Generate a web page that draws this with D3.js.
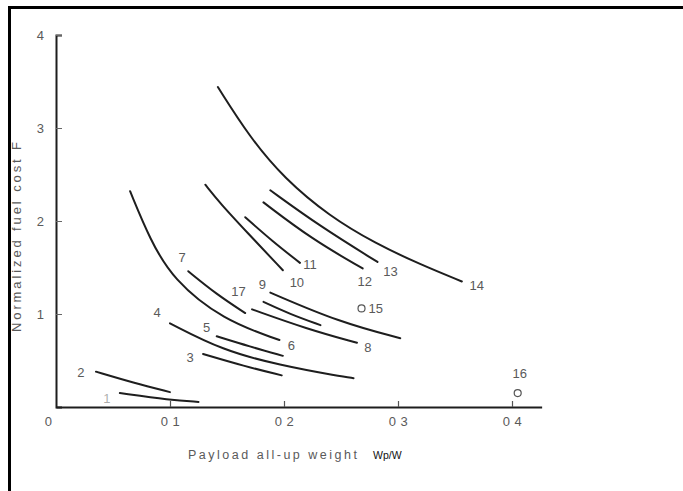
<!DOCTYPE html>
<html>
<head>
<meta charset="utf-8">
<script src="https://cdn.jsdelivr.net/npm/d3@7"></script>
<style>
  html, body { margin: 0; padding: 0; background: #fff; }
  svg { display: block; }
</style>
</head>
<body>
<svg id="chart" width="683" height="491"></svg>
<script>
// ---- data ----
const curveIds = ["1","2","3","4","5","6","7","8","9","17","10","11","12","13","14"];
const curve1  = [[0.056,0.15],[0.10,0.075],[0.125,0.055]];
const curve2  = [[0.035,0.38],[0.068,0.26],[0.10,0.16]];
const curve3  = [[0.129,0.57],[0.165,0.44],[0.198,0.34]];
const curve4  = [[0.10,0.90],[0.146,0.61],[0.196,0.45],[0.249,0.33],[0.261,0.31]];
const curve5  = [[0.141,0.76],[0.17,0.65],[0.199,0.55]];
const curve6  = [[0.065,2.32],[0.0825,1.80],[0.1026,1.37],[0.1465,0.935],[0.196,0.72]];
const curve7  = [[0.116,1.46],[0.14,1.22],[0.166,1.01]];
const curve8  = [[0.172,1.05],[0.22,0.84],[0.264,0.69]];
const curve9  = [[0.188,1.23],[0.249,0.91],[0.302,0.74]];
const curve17 = [[0.182,1.13],[0.205,1.00],[0.232,0.88]];
const curve10 = [[0.131,2.39],[0.144,2.19],[0.1675,1.88],[0.199,1.47]];
const curve11 = [[0.166,2.04],[0.19,1.78],[0.214,1.55]];
const curve12 = [[0.182,2.20],[0.225,1.80],[0.269,1.49]];
const curve13 = [[0.188,2.33],[0.232,1.94],[0.282,1.56]];
const curve14 = [[0.142,3.44],[0.17,2.90],[0.20,2.46],[0.24,2.05],[0.28,1.76],[0.32,1.53],[0.356,1.35]];
const pointIds = ["15","16"];
const pointValues = [[0.268,1.06],[0.405,0.15]];
const xTickValues = [0, 0.1, 0.2, 0.3, 0.4];
const xTickLabels = ["0","0 1","0 2","0 3","0 4"];
const yTickValues = [1, 2, 3, 4];
const yTickLabels = ["1","2","3","4"];
const xTitle = "Payload all-up weight";
const xTitleUnit = "Wp/W";
const yTitle = "Normalized fuel cost F";

// ---- layout (label placement relative to curve ends, px) ----
const curveData = {"1":curve1,"2":curve2,"3":curve3,"4":curve4,"5":curve5,"6":curve6,"7":curve7,
  "8":curve8,"9":curve9,"17":curve17,"10":curve10,"11":curve11,"12":curve12,"13":curve13,"14":curve14};
const labelPlace = {
  "1":["start",-13,5], "2":["start",-15,1], "3":["start",-13,4], "4":["start",-13,-11],
  "5":["start",-10,-9], "6":["end",12,5], "7":["start",-6,-14], "8":["end",11,5],
  "9":["start",-8,-8], "17":["start",-25,-10], "10":["end",14,12], "11":["end",10,2],
  "12":["end",2,13], "13":["end",13,10], "14":["end",15,4]
};

const svg = d3.select("#chart");
const x = d3.scaleLinear().domain([0, 0.426]).range([56, 56 + 0.426 * 1140]);
const y = d3.scaleLinear().domain([0, 4]).range([407, 35]);
const ink = "#1e1e1e", txt = "#5a5a5a";
const font = "'Liberation Sans', Arial, sans-serif";

// y title (drawn before frame so the frame clips it)
svg.append("text")
  .attr("transform", "translate(21,237) rotate(-90)")
  .attr("text-anchor", "middle")
  .attr("font-family", font).attr("font-size", 13)
  .attr("textLength", 190).attr("lengthAdjust", "spacing")
  .attr("fill", txt)
  .text(yTitle);

// frame
svg.append("line").attr("x1", 9.5).attr("x2", 9.5).attr("y1", 6).attr("y2", 491)
  .attr("stroke", "#000").attr("stroke-width", 3);
svg.append("line").attr("x1", 8).attr("x2", 683).attr("y1", 7.5).attr("y2", 7.5)
  .attr("stroke", "#000").attr("stroke-width", 3);

// axes
const yAxis = d3.axisLeft(y).tickValues(yTickValues)
  .tickFormat((d, i) => yTickLabels[i])
  .tickSizeInner(-6).tickSizeOuter(-6).tickPadding(12);
const gy = svg.append("g").attr("transform", `translate(${x(0)},0)`).call(yAxis);
gy.select(".domain").attr("stroke", ink).attr("stroke-width", 2);
gy.selectAll(".tick line").attr("stroke", "#666").attr("stroke-width", 1);
gy.selectAll(".tick text").attr("font-family", font).attr("font-size", 13).attr("fill", txt);

const xAxis = d3.axisBottom(x).tickValues(xTickValues)
  .tickFormat((d, i) => xTickLabels[i])
  .tickSizeInner(-6).tickSizeOuter(0).tickPadding(10);
const gx = svg.append("g").attr("transform", `translate(0,${y(0)})`).call(xAxis);
gx.select(".domain").attr("stroke", ink).attr("stroke-width", 2);
gx.selectAll(".tick line").attr("stroke", "#555").attr("stroke-width", 1.2)
  .filter(d => d === 0).remove();
gx.selectAll(".tick text").attr("font-family", font).attr("font-size", 13).attr("fill", txt)
  .attr("letter-spacing", 0.5)
  .attr("x", d => d === 0 ? -8 : 0);

// x title
svg.append("text").attr("x", 188).attr("y", 459)
  .attr("font-family", font).attr("font-size", 12.5)
  .attr("textLength", 169).attr("lengthAdjust", "spacing")
  .attr("fill", txt).text(xTitle);
svg.append("text").attr("x", 373).attr("y", 459)
  .attr("font-family", font).attr("font-size", 10.5)
  .attr("fill", "#111").text(xTitleUnit);

// curves
const line = d3.line().x(d => x(d[0])).y(d => y(d[1])).curve(d3.curveBasis);
svg.append("g").selectAll("path").data(curveIds).join("path")
  .attr("d", id => line(curveData[id]))
  .attr("fill", "none").attr("stroke", ink).attr("stroke-width", 2)
  .attr("stroke-linecap", "round");

// curve labels
svg.append("g").selectAll("text").data(curveIds).join("text")
  .attr("x", id => {
    const p = labelPlace[id], c = curveData[id];
    const pt = p[0] === "start" ? c[0] : c[c.length - 1];
    return x(pt[0]) + p[1];
  })
  .attr("y", id => {
    const p = labelPlace[id], c = curveData[id];
    const pt = p[0] === "start" ? c[0] : c[c.length - 1];
    return y(pt[1]) + p[2];
  })
  .attr("text-anchor", "middle").attr("dominant-baseline", "central")
  .attr("font-family", font).attr("font-size", 13).attr("fill", txt)
  .attr("fill-opacity", id => id === "1" ? 0.5 : 1)
  .text(id => id);

// isolated points
const gp = svg.append("g");
gp.selectAll("circle").data(pointValues).join("circle")
  .attr("cx", d => x(d[0])).attr("cy", d => y(d[1])).attr("r", 3.5)
  .attr("fill", "none").attr("stroke", "#555").attr("stroke-width", 1.2);
gp.selectAll("text").data(pointIds).join("text")
  .attr("x", (id, i) => x(pointValues[i][0]) + (i === 0 ? 7 : 2))
  .attr("y", (id, i) => y(pointValues[i][1]) + (i === 0 ? 0 : -20))
  .attr("text-anchor", (id, i) => i === 0 ? "start" : "middle")
  .attr("dominant-baseline", "central")
  .attr("font-family", font).attr("font-size", 13).attr("fill", txt)
  .text(id => id);
</script>
</body>
</html>
